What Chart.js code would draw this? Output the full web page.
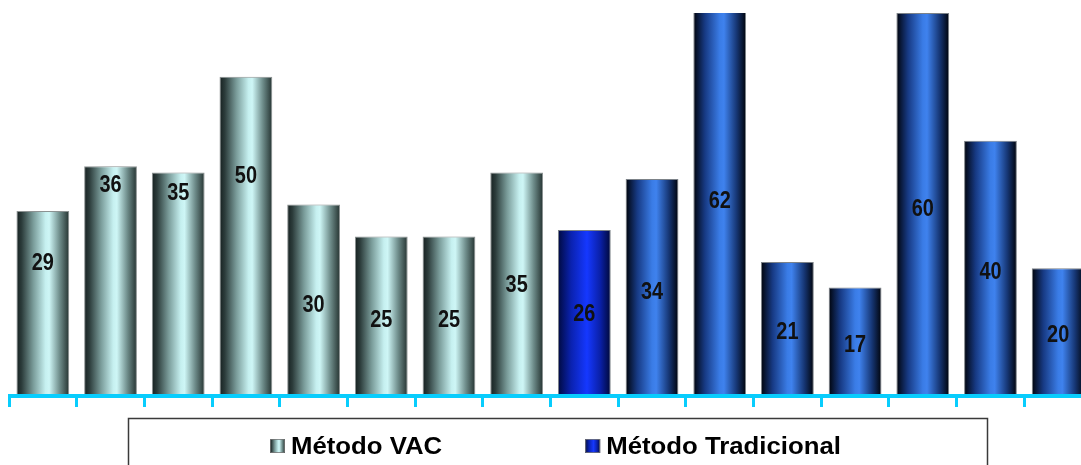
<!DOCTYPE html>
<html>
<head>
<meta charset="utf-8">
<script src="https://cdn.jsdelivr.net/npm/chart.js@4/dist/chart.umd.min.js"></script>
<style>
  html, body { margin: 0; padding: 0; background: #fff; overflow: hidden; }
  canvas { display: block; }
</style>
</head>
<body>
<canvas id="barChart" width="1100" height="465"></canvas>
<script>
// data
const categories = ["1", "2", "3", "4", "5", "6", "7", "8", "9", "10", "11", "12", "13", "14", "15", "16"];
const seriesNames = ["Método VAC", "Método Tradicional"];
const vacValues = [29, 36, 35, 50, 30, 25, 25, 35, null, null, null, null, null, null, null, null];
const tradValues = [null, null, null, null, null, null, null, null, 26, 34, 62, 21, 17, 60, 40, 20];
// where each value label sits, as a share of the visible bar height
const labelAt = [0.72, 0.92, 0.91, 0.69, 0.48, 0.48, 0.48, 0.5, 0.5, 0.48, 0.51, 0.48, 0.48, 0.49, 0.49, 0.48];
const yMax = 60;
const solidBar = 8; // first Tradicional bar is drawn in the plain series blue

const BAR_PCT = 0.78;
const AXIS = "#08cdfd";

// colour stops across a bar, left to right
const vacStops = [[0, "#162020"], [0.1, "#2c3c3b"], [0.32, "#7a9c9a"], [0.55, "#c6f0f0"], [0.62, "#cef6f6"], [0.82, "#6e8c8a"], [1, "#243230"]];
const tradStops = [[0, "#00030a"], [0.22, "#173a84"], [0.5, "#3a7ce6"], [0.58, "#3f82ee"], [0.82, "#163674"], [1, "#00030a"]];
const solidStops = [[0, "#000a40"], [0.25, "#0a22b0"], [0.55, "#1538ff"], [0.8, "#0a20a8"], [1, "#000838"]];

function makeGrad(ctx, x0, x1, stops) {
  const g = ctx.createLinearGradient(x0, 0, x1, 0);
  stops.forEach(s => g.addColorStop(s[0], s[1]));
  return g;
}

function barFill(c, stops) {
  const chart = c.chart;
  const x = chart.scales.x;
  if (!x || !chart.chartArea || c.dataIndex === undefined) return stops[2][1];
  const cx = x.getPixelForValue(c.dataIndex);
  const half = x.width / categories.length * BAR_PCT / 2;
  return makeGrad(chart.ctx, cx - half, cx + half, stops);
}

// thick cyan base line over the foot of the bars
const baseLine = {
  id: "baseLine",
  afterDatasetsDraw(chart) {
    const ctx = chart.ctx;
    const area = chart.chartArea;
    ctx.save();
    ctx.fillStyle = AXIS;
    ctx.fillRect(area.left - 1, area.bottom - 2, area.right - area.left + 2, 4);
    ctx.restore();
  }
};

const valueLabels = {
  id: "valueLabels",
  afterDatasetsDraw(chart) {
    const ctx = chart.ctx;
    const area = chart.chartArea;
    ctx.save();
    ctx.fillStyle = "#111";
    ctx.font = "bold 24px 'Liberation Sans', Arial, sans-serif";
    ctx.textAlign = "center";
    ctx.textBaseline = "middle";
    chart.data.datasets.forEach((ds, di) => {
      const meta = chart.getDatasetMeta(di);
      meta.data.forEach((el, i) => {
        const v = ds.data[i];
        if (v === null || v === undefined) return;
        const top = Math.max(el.y, area.top);
        const y = el.base - (el.base - top) * labelAt[i];
        ctx.save();
        ctx.translate(el.x, y);
        ctx.scale(0.83, 1);
        ctx.fillText(String(v), 0, 1);
        ctx.restore();
      });
    });
    ctx.restore();
  }
};

const boxedLegend = {
  id: "boxedLegend",
  afterDraw(chart) {
    const ctx = chart.ctx;
    const area = chart.chartArea;
    const frameLeft = area.left + 119;
    const frameTop = area.bottom + 22;
    ctx.save();
    ctx.strokeStyle = "#3a3a3a";
    ctx.lineWidth = 1.5;
    ctx.strokeRect(frameLeft + 0.5, frameTop + 0.5, 859, 80);

    ctx.font = "bold 23px 'Liberation Sans', Arial, sans-serif";
    ctx.textBaseline = "alphabetic";
    const swatchStops = [vacStops, solidStops];
    let x = frameLeft + 142;
    const sy = frameTop + 21;
    seriesNames.forEach((name, i) => {
      ctx.fillStyle = makeGrad(ctx, x, x + 15, swatchStops[i]);
      ctx.fillRect(x, sy, 15, 14);
      ctx.strokeStyle = "#777";
      ctx.lineWidth = 0.8;
      ctx.strokeRect(x + 0.5, sy + 0.5, 14, 13);
      ctx.fillStyle = "#000";
      const tx = x + 21;
      const w = ctx.measureText(name).width * 1.12;
      ctx.save();
      ctx.translate(tx, sy + 15);
      ctx.scale(1.12, 1);
      ctx.fillText(name, 0, 0);
      ctx.restore();
      x = tx + w + 143;
    });
    ctx.restore();
  }
};

const ctx = document.getElementById("barChart").getContext("2d");
const barChart = new Chart(ctx, {
  type: "bar",
  data: {
    labels: categories,
    datasets: [
      {
        label: seriesNames[0],
        data: vacValues,
        backgroundColor: c => barFill(c, vacStops),
        borderColor: "#8c9292",
        borderWidth: 1,
      },
      {
        label: seriesNames[1],
        data: tradValues,
        backgroundColor: c => barFill(c, c.dataIndex === solidBar ? solidStops : tradStops),
        borderColor: "#7c8288",
        borderWidth: 1,
      },
    ],
  },
  options: {
    responsive: false,
    devicePixelRatio: 1,
    animation: false,
    grouped: false,
    barPercentage: BAR_PCT,
    categoryPercentage: 1,
    layout: { padding: { left: 9, right: 8, top: 13, bottom: 58 } },
    plugins: {
      legend: { display: false },
      tooltip: { enabled: false },
    },
    scales: {
      x: {
        offset: true,
        grid: {
          offset: true,
          drawOnChartArea: false,
          drawTicks: true,
          tickLength: 11,
          tickWidth: 3,
          tickColor: AXIS,
        },
        border: { display: true, color: AXIS, width: 3 },
        ticks: { display: false },
      },
      y: {
        display: false,
        min: 0,
        max: yMax,
      },
    },
  },
  plugins: [baseLine, valueLabels, boxedLegend],
});
</script>
</body>
</html>
